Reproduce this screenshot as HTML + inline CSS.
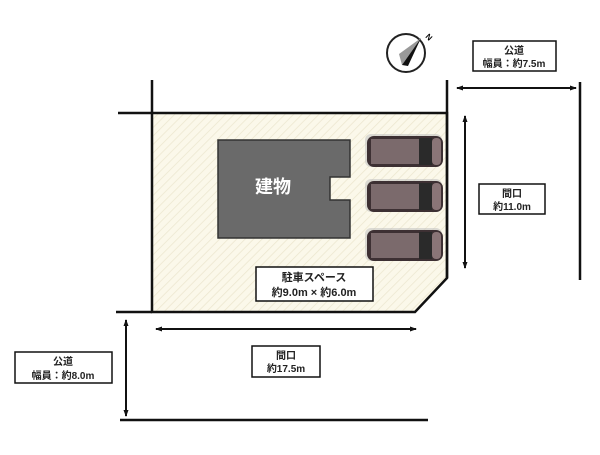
<!DOCTYPE html>
<html><head><meta charset="utf-8"><style>
body{margin:0;background:#fff;}
</style></head><body>
<svg width="600" height="450" viewBox="0 0 600 450" xmlns="http://www.w3.org/2000/svg" font-family="'Liberation Sans','Noto Sans CJK JP',sans-serif">
<defs>
<pattern id="h" width="6" height="6" patternUnits="userSpaceOnUse" patternTransform="rotate(45)">
<rect width="6" height="6" fill="#fbf8ea"/><line x1="0" y1="0" x2="0" y2="6" stroke="#ece6cf" stroke-width="1.5"/>
</pattern>
<marker id="a" markerUnits="userSpaceOnUse" markerWidth="7" markerHeight="6" refX="6" refY="3" orient="auto-start-reverse"><path d="M0,0.5 L7,3 L0,5.5 z" fill="#111"/></marker>
</defs>
<polygon points="152,113 447,113 447,278 415,312 152,312" fill="url(#h)" stroke="#111" stroke-width="2.5"/>
<g stroke="#111" stroke-width="2.5">
<line x1="118" y1="113" x2="152" y2="113"/>
<line x1="152" y1="80" x2="152" y2="113"/>
<line x1="447" y1="80" x2="447" y2="278"/>
<line x1="116" y1="312" x2="152" y2="312"/>
<line x1="120" y1="420" x2="428" y2="420"/>
<line x1="580" y1="82" x2="580" y2="280"/>
</g>
<g stroke="#111" stroke-width="2">
<line x1="457" y1="88" x2="576" y2="88" marker-start="url(#a)" marker-end="url(#a)"/>
<line x1="465" y1="116" x2="465" y2="268" marker-start="url(#a)" marker-end="url(#a)"/>
<line x1="156" y1="329" x2="416" y2="329" marker-start="url(#a)" marker-end="url(#a)"/>
<line x1="126" y1="320" x2="126" y2="416" marker-start="url(#a)" marker-end="url(#a)"/>
</g>
<path d="M218,140 H350 V177 H330 V200 H350 V238 H218 Z" fill="#6a6a6a" stroke="#333" stroke-width="1.5"/>
<text x="273" y="193" fill="#fff" font-size="18" font-weight="bold" text-anchor="middle">建物</text>
<g>
<g transform="translate(363,133)"><rect x="2" y="1" width="77" height="33" rx="6" fill="#bbb" opacity="0.5"/><rect x="4" y="3" width="76" height="31" rx="7" fill="#3d3033"/><rect x="8" y="6" width="48" height="25" fill="#7b6a6c"/><rect x="56" y="5" width="13" height="27" fill="#2a2a2a"/><rect x="69" y="5" width="9" height="27" rx="4" fill="#8a7577"/></g>
<g transform="translate(363,178)"><rect x="2" y="1" width="77" height="33" rx="6" fill="#bbb" opacity="0.5"/><rect x="4" y="3" width="76" height="31" rx="7" fill="#3d3033"/><rect x="8" y="6" width="48" height="25" fill="#7b6a6c"/><rect x="56" y="5" width="13" height="27" fill="#2a2a2a"/><rect x="69" y="5" width="9" height="27" rx="4" fill="#8a7577"/></g>
<g transform="translate(363,227)"><rect x="2" y="1" width="77" height="33" rx="6" fill="#bbb" opacity="0.5"/><rect x="4" y="3" width="76" height="31" rx="7" fill="#3d3033"/><rect x="8" y="6" width="48" height="25" fill="#7b6a6c"/><rect x="56" y="5" width="13" height="27" fill="#2a2a2a"/><rect x="69" y="5" width="9" height="27" rx="4" fill="#8a7577"/></g>
</g>
<g stroke="#111" stroke-width="1.5" fill="#fff">
<rect x="256" y="267" width="117" height="34"/>
<rect x="473" y="41" width="83" height="30"/>
<rect x="479" y="184" width="66" height="30"/>
<rect x="252" y="346" width="68" height="31"/>
<rect x="15" y="352" width="97" height="31"/>
</g>
<g font-size="10" font-weight="bold" text-anchor="middle" fill="#222">
<text x="314" y="281" font-size="11">駐車スペース</text>
<text x="314" y="296" font-size="11">約9.0m × 約6.0m</text>
<text x="514" y="54">公道</text>
<text x="514" y="67">幅員：約7.5m</text>
<text x="512" y="197">間口</text>
<text x="512" y="210">約11.0m</text>
<text x="286" y="359">間口</text>
<text x="286" y="372">約17.5m</text>
<text x="63" y="365">公道</text>
<text x="63" y="379">幅員：約8.0m</text>
</g>
<circle cx="406" cy="53" r="19" fill="#fff" stroke="#222" stroke-width="2"/>
<polygon points="421,38 399,54 402,65" fill="#999"/>
<polygon points="421,38 402,65 408,66" fill="#111"/>
<text x="425" y="37" font-size="8" font-weight="bold" transform="rotate(45 425 37)">N</text>
</svg>
</body></html>
